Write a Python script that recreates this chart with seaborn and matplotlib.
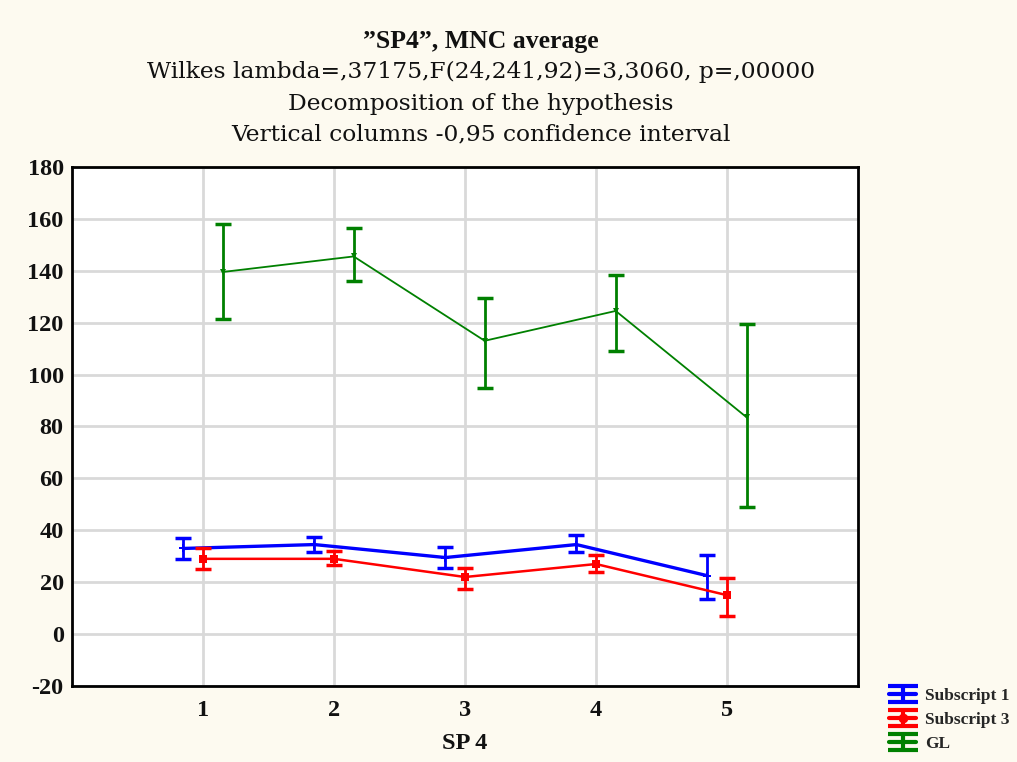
import matplotlib
matplotlib.use("Agg")
import matplotlib.pyplot as plt
from matplotlib.legend_handler import HandlerTuple
from matplotlib.lines import Line2D
from matplotlib.path import Path
import seaborn as sns
import numpy as np
import pandas as pd

categories = [1, 2, 3, 4, 5]
series_names = ["Subscript 1", "Subscript 3", "GL"]

sub1_mean = [33.0, 34.5, 29.5, 34.5, 22.5]
sub1_low = [29.0, 31.5, 25.5, 31.5, 13.5]
sub1_high = [37.0, 37.5, 33.5, 38.0, 30.5]

sub3_mean = [29.0, 29.0, 22.0, 27.0, 15.0]
sub3_low = [25.0, 26.5, 17.5, 24.0, 7.0]
sub3_high = [33.0, 32.0, 25.5, 30.5, 21.5]

gl_mean = [139.5, 145.5, 113.0, 124.5, 83.5]
gl_low = [121.5, 136.0, 95.0, 109.0, 49.0]
gl_high = [158.0, 156.5, 129.5, 138.5, 119.5]

yticks = [-20, 0, 20, 40, 60, 80, 100, 120, 140, 160, 180]

title_lines = ['\u201dSP4\u201d, MNC average',
               'Wilkes lambda=,37175,F(24,241,92)=3,3060, p=,00000',
               'Decomposition of the hypothesis',
               'Vertical columns -0,95 confidence interval']
x_label = "SP 4"

sns.set_theme(style="white")
plt.rcParams['font.family'] = ['Liberation Serif', 'DejaVu Serif']

means = [sub1_mean, sub3_mean, gl_mean]
lows = [sub1_low, sub3_low, gl_low]
highs = [sub1_high, sub3_high, gl_high]
colors = ["#0000ff", "#ff0000", "#008000"]
offsets = [-0.15, 0.0, 0.15]
markers = ["P", "s", "v"]
msizes = [6, 6, 5]
lws = [2.4, 1.8, 1.3]

rows = []
for name, m, lo, hi, off in zip(series_names, means, lows, highs, offsets):
    for c, mv, l, h in zip(categories, m, lo, hi):
        rows.append({"series": name, "x": c + off, "mean": mv, "low": l, "high": h})
df = pd.DataFrame(rows)

fig = plt.figure(figsize=(10.17, 7.62), dpi=100, facecolor="#fdfaf0")
ax = fig.add_axes([0.0708, 0.0997, 0.7729, 0.6813])
ax.set_facecolor("white")

# legend glyph: three horizontal bars joined by a vertical bar
gh = 0.55
glyph = Path([(-1, gh), (1, gh), (-1, -gh), (1, -gh), (0, gh), (0, -gh)],
             [Path.MOVETO, Path.LINETO, Path.MOVETO, Path.LINETO,
              Path.MOVETO, Path.LINETO])

handles = []
for name, col, mk, ms, lw in zip(series_names, colors, markers, msizes, lws):
    sub = df[df["series"] == name]
    sns.lineplot(data=sub, x="x", y="mean", ax=ax, color=col, lw=lw,
                 marker=mk, markersize=ms, markeredgewidth=0, legend=False)
    ax.errorbar(sub["x"], sub["mean"],
                yerr=[sub["mean"] - sub["low"], sub["high"] - sub["mean"]],
                fmt="none", ecolor=col, elinewidth=2, capsize=6, capthick=2.5)
    h1 = Line2D([], [], color=col, lw=3, marker=glyph, markersize=21,
                markeredgewidth=3, markerfacecolor="none", markeredgecolor=col)
    if name == "Subscript 3":
        h2 = Line2D([], [], color=col, lw=0, marker="o", markersize=7,
                    markeredgewidth=0, markerfacecolor=col)
        handles.append((h1, h2))
    else:
        handles.append(h1)

ax.set_xlim(0, 6)
ax.set_ylim(-20, 180)
ax.set_xticks(categories)
ax.set_xticklabels([str(c) for c in categories])
ax.set_yticks(yticks)
ax.set_yticklabels([str(t) for t in yticks])
ax.grid(True, color="#d9d9d9", lw=2)
ax.set_axisbelow(True)
for s in ax.spines.values():
    s.set_color("black")
    s.set_linewidth(2)
ax.tick_params(axis="y", direction="in", length=6, width=1.5, labelsize=17.5, pad=6,
               labelcolor="#111111")
ax.tick_params(axis="x", direction="in", length=0, labelsize=17.5, pad=10,
               labelcolor="#111111")
for lab in ax.get_xticklabels() + ax.get_yticklabels():
    lab.set_fontweight("bold")
ax.set_xlabel(x_label, fontsize=17.5, fontweight="bold", labelpad=9, color="#111111")
ax.set_ylabel("")

title_y = [0.946, 0.905, 0.864, 0.823]
for i, (t, yy) in enumerate(zip(title_lines, title_y)):
    if i == 0:
        fig.text(0.473, yy, t, ha="center", va="center", fontsize=18.5,
                 fontweight="bold", color="#111111", family="Liberation Serif")
    else:
        fig.text(0.473, yy, t, ha="center", va="center", fontsize=16.8,
                 fontweight="normal", color="#111111", family="DejaVu Serif")

leg = fig.legend(handles, series_names, loc="lower right",
                 bbox_to_anchor=(1.003, 0.0), frameon=False,
                 prop={"size": 12.5, "weight": "bold"}, handlelength=1.6,
                 labelspacing=0.45, handletextpad=0.5, borderaxespad=0.2,
                 handler_map={tuple: HandlerTuple(ndivide=1)})

fig.savefig("out.png", dpi=100, facecolor=fig.get_facecolor())
